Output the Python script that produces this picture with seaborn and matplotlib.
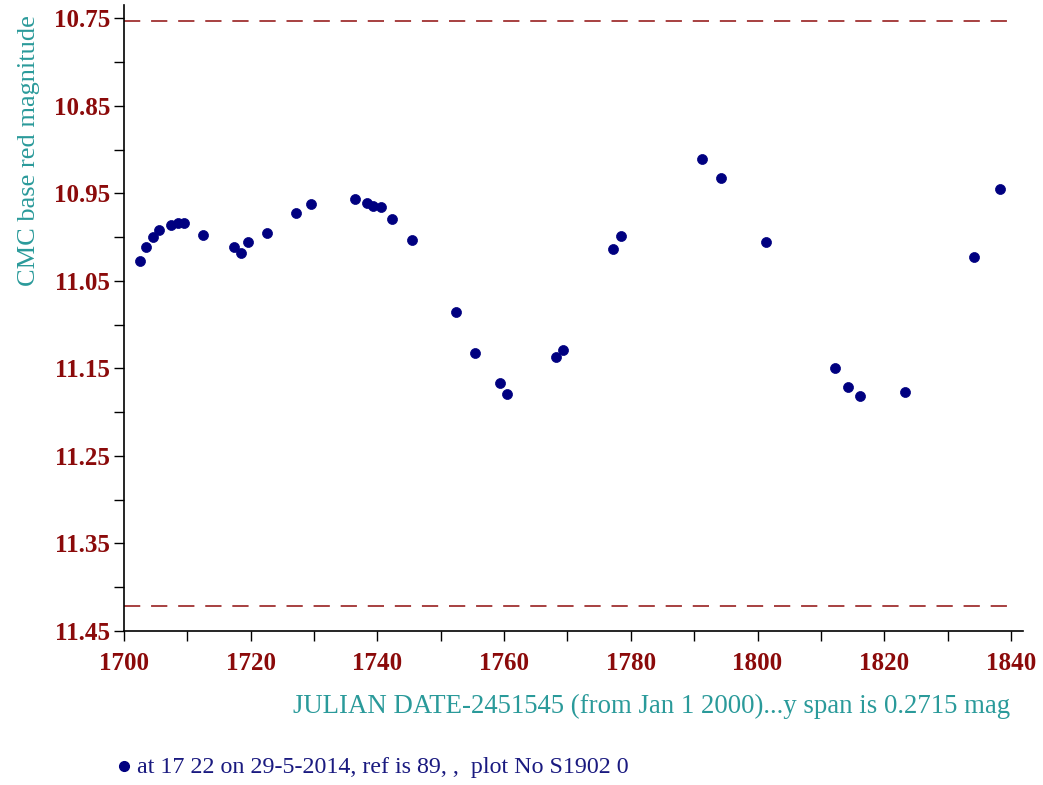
import numpy as np
import pandas as pd
import matplotlib
matplotlib.use("Agg")
import matplotlib.pyplot as plt
import matplotlib.ticker as mticker
from matplotlib.lines import Line2D
import seaborn as sns

# Dados
jd = [1702.5, 1703.5, 1704.5, 1705.5, 1707.4, 1708.6, 1709.5, 1712.4,
      1717.4, 1718.4, 1719.5, 1722.5, 1727.2, 1729.5, 1736.4, 1738.3,
      1739.3, 1740.6, 1742.3, 1745.4, 1752.4, 1755.4, 1759.3, 1760.4,
      1768.2, 1769.3, 1777.2, 1778.4, 1791.2, 1794.2, 1801.3, 1812.3,
      1814.3, 1816.2, 1823.3, 1834.2, 1838.2]
mag = [11.027, 11.011, 11.000, 10.992, 10.986, 10.984, 10.984, 10.998,
       11.011, 11.018, 11.006, 10.995, 10.972, 10.962, 10.957, 10.961,
       10.964, 10.965, 10.979, 11.003, 11.085, 11.132, 11.167, 11.179,
       11.137, 11.129, 11.013, 10.999, 10.911, 10.933, 11.005, 11.150,
       11.171, 11.182, 11.177, 11.023, 10.945]
limits = [10.753, 11.422]
x_ticks = [1700, 1710, 1720, 1730, 1740, 1750, 1760, 1770, 1780, 1790,
           1800, 1810, 1820, 1830, 1840]
y_ticks = [10.75, 10.80, 10.85, 10.90, 10.95, 11.00, 11.05, 11.10, 11.15,
           11.20, 11.25, 11.30, 11.35, 11.40, 11.45]

df = pd.DataFrame({"jd": jd, "mag": mag})

sns.set_style("white")
plt.rcParams["font.family"] = ["Liberation Serif", "DejaVu Serif"]

TICK_COLOR = "#8b0a0a"
LABEL_COLOR = "#2a9a9a"
POINT_COLOR = "#000080"

fig = plt.figure(figsize=(10.43, 7.85), dpi=100)
ax = fig.add_axes([0.1189, 0.1962, 0.8619, 0.7974])

sns.scatterplot(x="jd", y="mag", data=df, ax=ax, color=POINT_COLOR,
                s=52, edgecolor=POINT_COLOR, linewidth=0.5, zorder=3)

for lim in limits:
    ax.plot([1700, 1840], [lim, lim], color="#a03232", linewidth=1.3,
            dashes=(9, 6), zorder=2)

ax.set_xlim(1700, 1841.9)
ax.set_ylim(11.45, 10.7348)

ax.set_xticks(x_ticks)
ax.xaxis.set_major_formatter(mticker.FuncFormatter(
    lambda v, p: f"{v:.0f}" if round(v) % 20 == 0 else ""))
ax.set_yticks(y_ticks)
ax.yaxis.set_major_formatter(mticker.FuncFormatter(
    lambda v, p: f"{v:.2f}" if round(v * 100) % 10 == 5 else ""))

ax.tick_params(axis="both", direction="out", length=7, width=1, color="black",
               labelsize=18, labelcolor=TICK_COLOR, bottom=True, left=True)
ax.tick_params(axis="x", pad=8)
ax.tick_params(axis="y", pad=3)
for lbl in ax.get_xticklabels() + ax.get_yticklabels():
    lbl.set_fontweight("bold")

for side in ["top", "right"]:
    ax.spines[side].set_visible(False)
for side in ["left", "bottom"]:
    ax.spines[side].set_color("black")
    ax.spines[side].set_linewidth(1.2)

ax.set_xlabel("JULIAN DATE-2451545 (from Jan 1 2000)...y span is 0.2715 mag",
              fontsize=19.3, color=LABEL_COLOR, ha="right")
ax.xaxis.set_label_coords((1010 - 124) / 899, -(706 - 631) / 626)
ax.xaxis.label.set_va("center")
ax.set_ylabel("CMC base red magnitude", fontsize=19, color=LABEL_COLOR)
ax.yaxis.set_label_coords(-(124 - 29) / 899, (631 - 151) / 626)
ax.yaxis.label.set_va("center")
ax.grid(False)

# Rodapé
fig.add_artist(Line2D([124 / 1043], [1 - 766 / 785], marker="o", color=POINT_COLOR,
                      markersize=7, transform=fig.transFigure))
fig.text(137 / 1043, 1 - 767 / 785, "at 17 22 on 29-5-2014, ref is 89, ,  plot No S1902 0",
         fontsize=17.3, color="#1a1a80", va="center", ha="left")

plt.savefig("out.png", dpi=100)
